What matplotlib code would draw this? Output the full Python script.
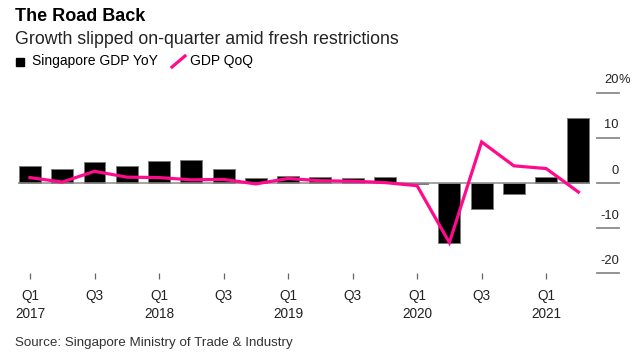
import matplotlib
matplotlib.use("Agg")
import matplotlib.pyplot as plt
import matplotlib.transforms as mtransforms
from matplotlib.lines import Line2D
from matplotlib.patches import Rectangle
import numpy as np

plt.rcParams['font.family'] = ['Liberation Sans', 'DejaVu Sans']

# quarterly data, 2017 Q1 .. 2021 Q2
quarters = ['2017Q1', '2017Q2', '2017Q3', '2017Q4',
            '2018Q1', '2018Q2', '2018Q3', '2018Q4',
            '2019Q1', '2019Q2', '2019Q3', '2019Q4',
            '2020Q1', '2020Q2', '2020Q3', '2020Q4',
            '2021Q1', '2021Q2']
gdp_yoy = [3.8, 3.2, 4.7, 3.8, 4.9, 5.1, 3.2, 1.1, 1.6, 1.3, 1.1, 1.3,
           -0.3, -13.3, -5.8, -2.4, 1.3, 14.3]
gdp_qoq = [1.2, 0.2, 2.6, 1.3, 1.2, 0.7, 0.8, -0.2, 1.0, 0.5, 0.4, 0.1,
           -0.6, -13.2, 9.1, 3.8, 3.2, -2.0]
tick_labels = ['Q1\n2017', 'Q3', 'Q1\n2018', 'Q3', 'Q1\n2019', 'Q3',
               'Q1\n2020', 'Q3', 'Q1\n2021']
y_ticks = [20, 10, 0, -10, -20]

PINK = '#ff0a8c'
GRAY = '#8a8a8a'

fig = plt.figure(figsize=(6.43, 3.6), dpi=100)
ax = fig.add_axes([0.0286, 0.2408, 0.889, 0.5017])

x = np.arange(len(quarters))
ax.bar(x, gdp_yoy, width=0.68, color='black', edgecolor='#7a7a7a',
       linewidth=0.7, zorder=2)
ax.axhline(0, color=GRAY, lw=1.1, zorder=3)
ax.plot(x, gdp_qoq, color=PINK, lw=2.3, zorder=4, solid_joinstyle='miter')

ax.set_xlim(-0.36, len(quarters) - 1 + 0.36)
ax.set_ylim(-20, 20)
for s in ax.spines.values():
    s.set_visible(False)
ax.set_yticks([])
ax.set_xticks(x[::2])
ax.set_xticklabels(tick_labels, fontsize=9.8, linespacing=1.35, color='#222222')
ax.tick_params(axis='x', length=4, width=0.9, color='#666666', pad=7.5)

# right-hand value scale
trans = mtransforms.blended_transform_factory(ax.transAxes, ax.transData)
for v in y_ticks:
    ax.plot([1.0125, 1.0506], [v, v], transform=trans, color=GRAY,
            lw=1.3, clip_on=False)
    ax.annotate(str(v), xy=(1.0506, v), xycoords=trans, xytext=(0, 9),
                textcoords='offset points', ha='right', va='center',
                fontsize=9.3, color='#222222')
ax.annotate('%', xy=(1.0506, y_ticks[0]), xycoords=trans, xytext=(0, 9),
            textcoords='offset points', ha='left', va='center',
            fontsize=9.3, color='#222222')

# titles
fig.text(15 / 643, 1 - 21 / 360, 'The Road Back', fontsize=13,
         fontweight='bold', va='baseline')
fig.text(15 / 643, 1 - 44.5 / 360, 'Growth slipped on-quarter amid fresh restrictions',
         fontsize=12.8, va='baseline', color='#222222')

# legend
fig.add_artist(Rectangle((15.7 / 643, 1 - 66 / 360), 8 / 643, 8 / 360,
                         transform=fig.transFigure, color='black'))
fig.text(31.5 / 643, 1 - 61.5 / 360, 'Singapore GDP YoY', fontsize=10,
         va='center')
fig.add_artist(Line2D([172 / 643, 185 / 643], [1 - 67 / 360, 1 - 56 / 360],
                      transform=fig.transFigure, color=PINK, lw=2.3))
fig.text(190 / 643, 1 - 61.5 / 360, 'GDP QoQ', fontsize=10, va='center')

fig.text(15 / 643, 1 - 343 / 360, 'Source: Singapore Ministry of Trade & Industry',
         fontsize=9.6, va='center', color='#333333')

fig.savefig('out.png', dpi=100)
